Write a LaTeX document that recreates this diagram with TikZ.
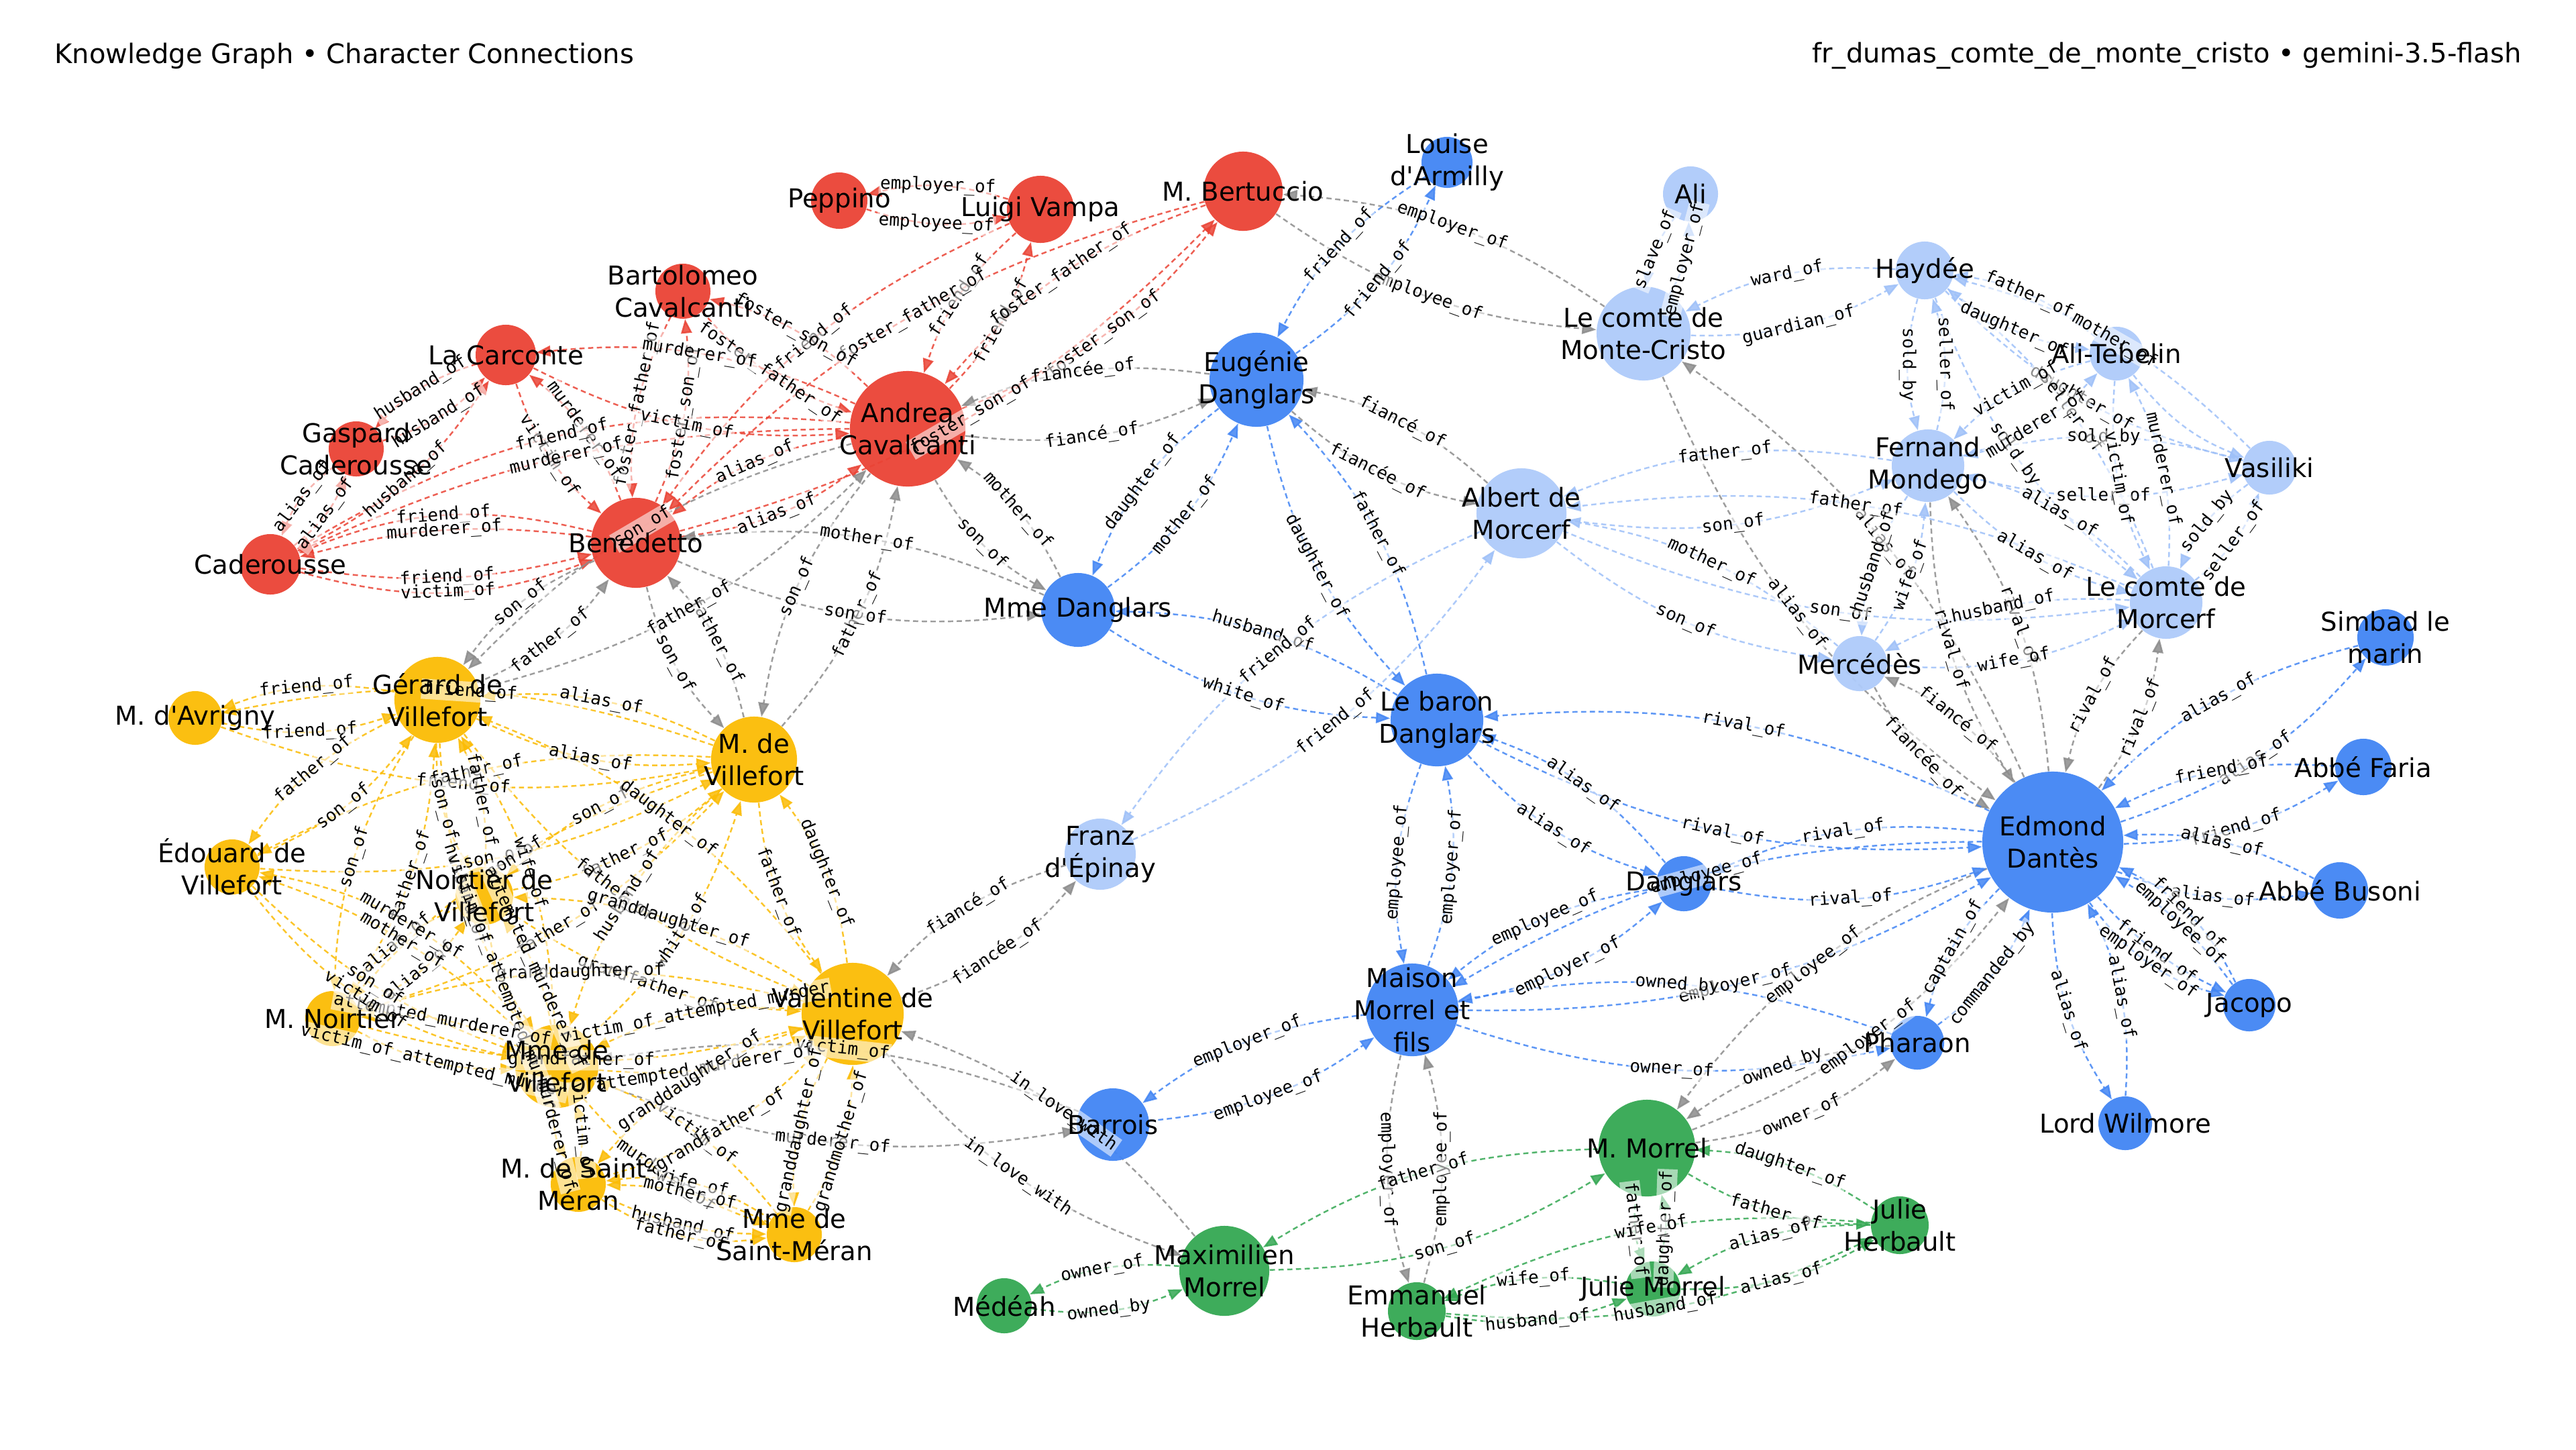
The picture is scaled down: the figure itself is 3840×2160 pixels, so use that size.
\documentclass[tikz,border=0pt]{standalone}
\usepackage{fontspec}
\setmainfont{DejaVu Sans}
\newfontfamily\nodef{DejaVu Sans}
\newfontfamily\monof{DejaVu Sans Mono}
\usetikzlibrary{arrows.meta}
\definecolor{colR}{HTML}{EA4335}
\definecolor{colB}{HTML}{4285F4}
\definecolor{colL}{HTML}{AECBFA}
\definecolor{colLe}{HTML}{9EC0F8}
\definecolor{colY}{HTML}{FBBC05}
\definecolor{colG}{HTML}{34A853}
\definecolor{colX}{HTML}{8C8C8C}
\pgfdeclarelayer{bg}
\pgfdeclarelayer{edges}
\pgfsetlayers{bg,edges,main}
\tikzset{
  circ/.style={circle, inner sep=0pt, draw=none},
  nlab/.style={font=\nodef\fontsize{11}{13.6}\selectfont, align=center, inner sep=0pt, text=black},
  elab/.style={midway, sloped, font=\monof\fontsize{7.4}{8}\selectfont, fill=white, fill opacity=0.55, text opacity=1, inner sep=0.6pt, text=black},
  lnk/.style={line width=0.7pt, draw opacity=0.85, fill opacity=0.85, dash pattern=on 2.2pt off 1.5pt, -{Triangle[length=6pt,width=4.6pt]}},
  eR/.style={draw=colR}, eB/.style={draw=colB}, eL/.style={draw=colLe},
  eY/.style={draw=colY}, eG/.style={draw=colG}, eX/.style={draw=colX}
}
\newcommand\ED[5][15]{%
  \begin{pgfonlayer}{edges}\draw[lnk,#5] (#2) to[bend right=#1] (#3);\end{pgfonlayer}%
  \path (#2) to[bend right=#1] node[elab]{\detokenize{#4}} (#3);}
\newcommand\EN[4][15]{%
  \begin{pgfonlayer}{edges}\draw[lnk,#4] (#2) to[bend right=#1] (#3);\end{pgfonlayer}}
\newcommand\CN[5]{\node[circ, minimum size=#4*0.02cm, fill=#5, fill opacity=0.95] (#1) at (#2,#3) {};}
\begin{document}
\begin{tikzpicture}[x=0.01cm,y=-0.01cm]
\begin{pgfonlayer}{bg}
\fill[white] (0,0) rectangle (3840,2160);
\end{pgfonlayer}
\useasboundingbox (0,0) rectangle (3840,2160);
\node[anchor=west, font=\nodef\fontsize{11.4}{14}\selectfont] (ttl) at (69,83) {Knowledge Graph • Character Connections};
\node[anchor=east, font=\nodef\fontsize{11.4}{14}\selectfont] (ttr) at (3771,83) {fr\_dumas\_comte\_de\_monte\_cristo • gemini-3.5-flash};
% circles
\CN{pep}{1251}{299}{42}{colR}
\CN{vam}{1551}{312}{50}{colR}
\CN{ber}{1853}{285}{59}{colR}
\CN{bar}{1018}{434}{41}{colR}
\CN{car}{754}{529}{45}{colR}
\CN{gas}{531}{669}{41}{colR}
\CN{cad}{403}{841}{45}{colR}
\CN{ben}{948}{809}{67}{colR}
\CN{and}{1353}{639}{86}{colR}
\CN{lou}{2157}{242}{38}{colB}
\CN{eug}{1873}{566}{70}{colB}
\CN{mda}{1607}{909}{55}{colB}
\CN{bdg}{2142}{1073}{69}{colB}
\CN{dgl}{2510}{1317}{41}{colB}
\CN{mai}{2105}{1505}{69}{colB}
\CN{brr}{1659}{1676}{54}{colB}
\CN{pha}{2858}{1554}{40}{colB}
\CN{edm}{3060}{1255}{105}{colB}
\CN{sim}{3556}{950}{42}{colB}
\CN{far}{3523}{1143}{42}{colB}
\CN{bus}{3488}{1327}{42}{colB}
\CN{jac}{3353}{1498}{39}{colB}
\CN{wil}{3168}{1674}{40}{colB}
\CN{ali}{2520}{289}{41}{colL}
\CN{mc}{2450}{497}{70}{colL}
\CN{hay}{2869}{403}{43}{colL}
\CN{ate}{3155}{527}{40}{colL}
\CN{fer}{2874}{694}{54}{colL}
\CN{vas}{3383}{697}{40}{colL}
\CN{alb}{2268}{765}{67}{colL}
\CN{cmo}{3229}{898}{54}{colL}
\CN{mer}{2772}{989}{41}{colL}
\CN{fra}{1640}{1273}{53}{colL}
\CN{avr}{291}{1070}{40}{colY}
\CN{ger}{652}{1043}{64}{colY}
\CN{mvi}{1124}{1132}{64}{colY}
\CN{edo}{346}{1292}{41}{colY}
\CN{noi}{722}{1335}{43}{colY}
\CN{mno}{496}{1518}{41}{colY}
\CN{mmv}{830}{1589}{62}{colY}
\CN{val}{1271}{1511}{76}{colY}
\CN{msm}{862}{1765}{41}{colY}
\CN{mms}{1184}{1840}{41}{colY}
\CN{med}{1497}{1946}{41}{colG}
\CN{max}{1825}{1894}{67}{colG}
\CN{emm}{2112}{1954}{43}{colG}
\CN{mor}{2455}{1711}{72}{colG}
\CN{jum}{2464}{1921}{41}{colG}
\CN{juh}{2832}{1826}{43}{colG}
% red edges
\ED{vam}{pep}{employer_of}{eR}
\ED{pep}{vam}{employee_of}{eR}
\ED{vam}{and}{friend_of}{eR}
\ED{and}{vam}{friend_of}{eR}
\ED{ber}{and}{foster_father_of}{eR}
\ED{and}{ber}{foster_son_of}{eR}
\ED{ber}{ben}{foster_father_of}{eR}
\ED{ben}{ber}{foster_son_of}{eR}
\ED{vam}{ben}{friend_of}{eR}
\ED{bar}{and}{foster_father_of}{eR}
\ED{and}{bar}{foster_son_of}{eR}
\ED{bar}{ben}{foster_father_of}{eR}
\ED{ben}{bar}{foster_son_of}{eR}
\ED{ben}{car}{murderer_of}{eR}
\ED{car}{ben}{victim_of}{eR}
\ED{and}{car}{murderer_of}{eR}
\ED{car}{and}{victim_of}{eR}
\ED{and}{ben}{alias_of}{eR}
\ED{ben}{and}{alias_of}{eR}
\ED{gas}{car}{husband_of}{eR}
\ED{car}{gas}{husband_of}{eR}
\ED{cad}{car}{husband_of}{eR}
\ED{cad}{gas}{alias_of}{eR}
\ED{gas}{cad}{alias_of}{eR}
\ED[18]{ben}{cad}{friend_of}{eR}
\ED[11]{ben}{cad}{murderer_of}{eR}
\ED[11]{cad}{ben}{friend_of}{eR}
\ED[18]{cad}{ben}{victim_of}{eR}
\ED[18]{and}{cad}{friend_of}{eR}
\ED[12]{and}{cad}{murderer_of}{eR}
% gray edges
\ED{ben}{ger}{son_of}{eX}
\ED{ger}{ben}{father_of}{eX}
\ED{ben}{mvi}{son_of}{eX}
\ED{mvi}{ben}{father_of}{eX}
\ED{and}{ger}{son_of}{eX}
\ED{ger}{and}{father_of}{eX}
\ED{and}{mvi}{son_of}{eX}
\ED{mvi}{and}{father_of}{eX}
\ED{and}{mda}{son_of}{eX}
\ED{mda}{and}{mother_of}{eX}
\ED{ben}{mda}{son_of}{eX}
\ED{mda}{ben}{mother_of}{eX}
\ED{and}{eug}{fiancé_of}{eX}
\ED{eug}{and}{fiancée_of}{eX}
\ED{alb}{eug}{fiancé_of}{eX}
\ED{eug}{alb}{fiancée_of}{eX}
\ED{mc}{ber}{employer_of}{eX}
\ED{ber}{mc}{employee_of}{eX}
\ED{fra}{val}{fiancé_of}{eX}
\ED{val}{fra}{fiancée_of}{eX}
\ED{mmv}{brr}{murderer_of}{eX}
\ED{brr}{mmv}{victim_of}{eX}
\ED{val}{max}{in_love_with}{eX}
\ED{max}{val}{in_love_with}{eX}
\ED{edm}{mer}{fiancé_of}{eX}
\ED{mer}{edm}{fiancée_of}{eX}
\ED{edm}{fer}{rival_of}{eX}
\ED{fer}{edm}{rival_of}{eX}
\ED{edm}{cmo}{rival_of}{eX}
\ED{cmo}{edm}{rival_of}{eX}
\ED{mc}{edm}{alias_of}{eX}
\ED{edm}{mc}{alias_of}{eX}
\ED{edm}{mor}{employee_of}{eX}
\ED{mor}{edm}{employer_of}{eX}
\ED{pha}{mor}{owned_by}{eX}
\ED{mor}{pha}{owner_of}{eX}
\ED{mai}{emm}{employer_of}{eX}
\ED{emm}{mai}{employee_of}{eX}
% blue edges
\ED{lou}{eug}{friend_of}{eB}
\ED{eug}{lou}{friend_of}{eB}
\ED{eug}{mda}{daughter_of}{eB}
\ED{mda}{eug}{mother_of}{eB}
\ED{eug}{bdg}{daughter_of}{eB}
\ED{bdg}{eug}{father_of}{eB}
\ED{mda}{bdg}{white_of}{eB}
\ED{bdg}{mda}{husband_of}{eB}
\ED{bdg}{mai}{employee_of}{eB}
\ED{mai}{bdg}{employer_of}{eB}
\ED{bdg}{dgl}{alias_of}{eB}
\ED{dgl}{bdg}{alias_of}{eB}
\ED{edm}{bdg}{rival_of}{eB}
\ED{bdg}{edm}{rival_of}{eB}
\ED{dgl}{edm}{rival_of}{eB}
\ED{edm}{dgl}{rival_of}{eB}
\ED{dgl}{mai}{employee_of}{eB}
\ED{mai}{dgl}{employer_of}{eB}
\ED{edm}{mai}{employee_of}{eB}
\ED{mai}{edm}{employer_of}{eB}
\ED{pha}{mai}{owned_by}{eB}
\ED{mai}{pha}{owner_of}{eB}
\ED{mai}{brr}{employer_of}{eB}
\ED{brr}{mai}{employee_of}{eB}
\ED{edm}{pha}{captain_of}{eB}
\ED{pha}{edm}{commanded_by}{eB}
\ED{edm}{sim}{alias_of}{eB}
\ED{sim}{edm}{alias_of}{eB}
\ED{edm}{far}{friend_of}{eB}
\ED{far}{edm}{friend_of}{eB}
\ED{bus}{edm}{alias_of}{eB}
\ED{edm}{bus}{alias_of}{eB}
\ED[19]{jac}{edm}{friend_of}{eB}
\ED[11]{jac}{edm}{employee_of}{eB}
\ED[11]{edm}{jac}{friend_of}{eB}
\ED[19]{edm}{jac}{employer_of}{eB}
\ED{edm}{wil}{alias_of}{eB}
\ED{wil}{edm}{alias_of}{eB}
% light blue edges
\ED{ali}{mc}{slave_of}{eL}
\ED{mc}{ali}{employer_of}{eL}
\ED{hay}{mc}{ward_of}{eL}
\ED{mc}{hay}{guardian_of}{eL}
\ED{hay}{fer}{sold_by}{eL}
\ED{fer}{hay}{seller_of}{eL}
\ED{ate}{hay}{father_of}{eL}
\ED{hay}{ate}{daughter_of}{eL}
\ED{vas}{hay}{mother_of}{eL}
\ED{hay}{vas}{daughter_of}{eL}
\ED{hay}{cmo}{sold_by}{eL}
\ED{cmo}{hay}{seller_of}{eL}
\ED{ate}{fer}{victim_of}{eL}
\ED{fer}{ate}{murderer_of}{eL}
\ED{vas}{fer}{sold_by}{eL}
\ED{fer}{vas}{seller_of}{eL}
\ED{ate}{cmo}{victim_of}{eL}
\ED{cmo}{ate}{murderer_of}{eL}
\ED{vas}{cmo}{sold_by}{eL}
\ED{cmo}{vas}{seller_of}{eL}
\EN{ate}{vas}{eL}
\ED{fer}{alb}{father_of}{eL}
\ED{alb}{fer}{son_of}{eL}
\ED{cmo}{alb}{father_of}{eL}
\ED{alb}{cmo}{son_of}{eL}
\ED{alb}{mer}{son_of}{eL}
\ED{mer}{alb}{mother_of}{eL}
\ED{fer}{mer}{husband_of}{eL}
\ED{mer}{fer}{wife_of}{eL}
\ED{cmo}{mer}{husband_of}{eL}
\ED{mer}{cmo}{wife_of}{eL}
\ED{fer}{cmo}{alias_of}{eL}
\ED{cmo}{fer}{alias_of}{eL}
\ED{alb}{fra}{friend_of}{eL}
\ED{fra}{alb}{friend_of}{eL}
% yellow edges
\ED{ger}{avr}{friend_of}{eY}
\ED{avr}{ger}{friend_of}{eY}
\ED{ger}{mvi}{alias_of}{eY}
\ED{mvi}{ger}{alias_of}{eY}
\ED{avr}{mvi}{friend_of}{eY}
\ED{mvi}{avr}{friend_of}{eY}
\ED{ger}{edo}{father_of}{eY}
\ED{edo}{ger}{son_of}{eY}
\ED{mvi}{edo}{father_of}{eY}
\ED{edo}{mvi}{son_of}{eY}
\ED{noi}{ger}{father_of}{eY}
\ED{ger}{noi}{son_of}{eY}
\ED{noi}{mvi}{father_of}{eY}
\ED{mvi}{noi}{son_of}{eY}
\ED{mno}{ger}{father_of}{eY}
\ED{ger}{mno}{son_of}{eY}
\ED{mno}{mvi}{father_of}{eY}
\ED{mvi}{mno}{son_of}{eY}
\ED{noi}{mno}{alias_of}{eY}
\ED{mno}{noi}{alias_of}{eY}
\ED{mmv}{ger}{wife_of}{eY}
\ED{ger}{mmv}{husband_of}{eY}
\ED{mvi}{mmv}{husband_of}{eY}
\ED{mmv}{mvi}{white_of}{eY}
\ED{ger}{val}{father_of}{eY}
\ED{val}{ger}{daughter_of}{eY}
\ED{mvi}{val}{father_of}{eY}
\ED{val}{mvi}{daughter_of}{eY}
\ED{noi}{val}{grandfather_of}{eY}
\ED{val}{noi}{granddaughter_of}{eY}
\ED{mno}{val}{grandfather_of}{eY}
\ED{val}{mno}{granddaughter_of}{eY}
\ED{mmv}{noi}{attempted_murderer_of}{eY}
\ED{noi}{mmv}{victim_of_attempted_murder}{eY}
\ED{mmv}{mno}{attempted_murderer_of}{eY}
\ED{mno}{mmv}{victim_of_attempted_murder}{eY}
\ED{mmv}{val}{attempted_murderer_of}{eY}
\ED{val}{mmv}{victim_of_attempted_murder}{eY}
\ED[12]{mmv}{edo}{mother_of}{eY}
\ED[12]{edo}{mmv}{son_of}{eY}
\ED[20]{mmv}{edo}{murderer_of}{eY}
\ED[20]{edo}{mmv}{victim_of}{eY}
\ED{mmv}{msm}{murderer_of}{eY}
\ED{msm}{mmv}{victim_of}{eY}
\ED{mmv}{mms}{murderer_of}{eY}
\ED{mms}{mmv}{victim_of}{eY}
\ED[12]{msm}{mms}{husband_of}{eY}
\ED[20]{mms}{msm}{wife_of}{eY}
\ED[20]{msm}{mms}{father_of}{eY}
\ED[12]{mms}{msm}{mother_of}{eY}
\ED{msm}{val}{grandfather_of}{eY}
\ED{val}{msm}{granddaughter_of}{eY}
\ED{mms}{val}{grandmother_of}{eY}
\ED{val}{mms}{granddaughter_of}{eY}
% green edges
\ED{max}{med}{owner_of}{eG}
\ED{med}{max}{owned_by}{eG}
\ED{mor}{max}{father_of}{eG}
\ED{max}{mor}{son_of}{eG}
\ED{mor}{jum}{father_of}{eG}
\ED{jum}{mor}{daughter_of}{eG}
\ED{mor}{juh}{father_of}{eG}
\ED{juh}{mor}{daughter_of}{eG}
\ED{juh}{jum}{alias_of}{eG}
\ED{jum}{juh}{alias_of}{eG}
\ED{jum}{emm}{wife_of}{eG}
\ED{emm}{jum}{husband_of}{eG}
\ED{juh}{emm}{wife_of}{eG}
\ED{emm}{juh}{husband_of}{eG}
% node labels
\node[nlab] (pep-t) at (pep) {Peppino};
\node[nlab] (vam-t) at (vam) {Luigi Vampa};
\node[nlab] (ber-t) at (ber) {M. Bertuccio};
\node[nlab] (bar-t) at (bar) {Bartolomeo\\Cavalcanti};
\node[nlab] (car-t) at (car) {La Carconte};
\node[nlab] (gas-t) at (gas) {Gaspard\\Caderousse};
\node[nlab] (cad-t) at (cad) {Caderousse};
\node[nlab] (ben-t) at (ben) {Benedetto};
\node[nlab] (and-t) at (and) {Andrea\\Cavalcanti};
\node[nlab] (lou-t) at (lou) {Louise\\d'Armilly};
\node[nlab] (eug-t) at (eug) {Eugénie\\Danglars};
\node[nlab] (mda-t) at (mda) {Mme Danglars};
\node[nlab] (bdg-t) at (bdg) {Le baron\\Danglars};
\node[nlab] (dgl-t) at (dgl) {Danglars};
\node[nlab] (mai-t) at (mai) {Maison\\Morrel et\\fils};
\node[nlab] (brr-t) at (brr) {Barrois};
\node[nlab] (pha-t) at (pha) {Pharaon};
\node[nlab] (edm-t) at (edm) {Edmond\\Dantès};
\node[nlab] (sim-t) at (sim) {Simbad le\\marin};
\node[nlab] (far-t) at (far) {Abbé Faria};
\node[nlab] (bus-t) at (bus) {Abbé Busoni};
\node[nlab] (jac-t) at (jac) {Jacopo};
\node[nlab] (wil-t) at (wil) {Lord Wilmore};
\node[nlab] (ali-t) at (ali) {Ali};
\node[nlab] (mc-t) at (mc) {Le comte de\\Monte-Cristo};
\node[nlab] (hay-t) at (hay) {Haydée};
\node[nlab] (ate-t) at (ate) {Ali-Tebelin};
\node[nlab] (fer-t) at (fer) {Fernand\\Mondego};
\node[nlab] (vas-t) at (vas) {Vasiliki};
\node[nlab] (alb-t) at (alb) {Albert de\\Morcerf};
\node[nlab] (cmo-t) at (cmo) {Le comte de\\Morcerf};
\node[nlab] (mer-t) at (mer) {Mercédès};
\node[nlab] (fra-t) at (fra) {Franz\\d'Épinay};
\node[nlab] (avr-t) at (avr) {M. d'Avrigny};
\node[nlab] (ger-t) at (ger) {Gérard de\\Villefort};
\node[nlab] (mvi-t) at (mvi) {M. de\\Villefort};
\node[nlab] (edo-t) at (edo) {Édouard de\\Villefort};
\node[nlab] (noi-t) at (noi) {Noirtier de\\Villefort};
\node[nlab] (mno-t) at (mno) {M. Noirtier};
\node[nlab] (mmv-t) at (mmv) {Mme de\\Villefort};
\node[nlab] (val-t) at (val) {Valentine de\\Villefort};
\node[nlab] (msm-t) at (msm) {M. de Saint-\\Méran};
\node[nlab] (mms-t) at (mms) {Mme de\\Saint-Méran};
\node[nlab] (med-t) at (med) {Médéah};
\node[nlab] (max-t) at (max) {Maximilien\\Morrel};
\node[nlab] (emm-t) at (emm) {Emmanuel\\Herbault};
\node[nlab] (mor-t) at (mor) {M. Morrel};
\node[nlab] (jum-t) at (jum) {Julie Morrel};
\node[nlab] (juh-t) at (juh) {Julie\\Herbault};
\end{tikzpicture}
\end{document}
